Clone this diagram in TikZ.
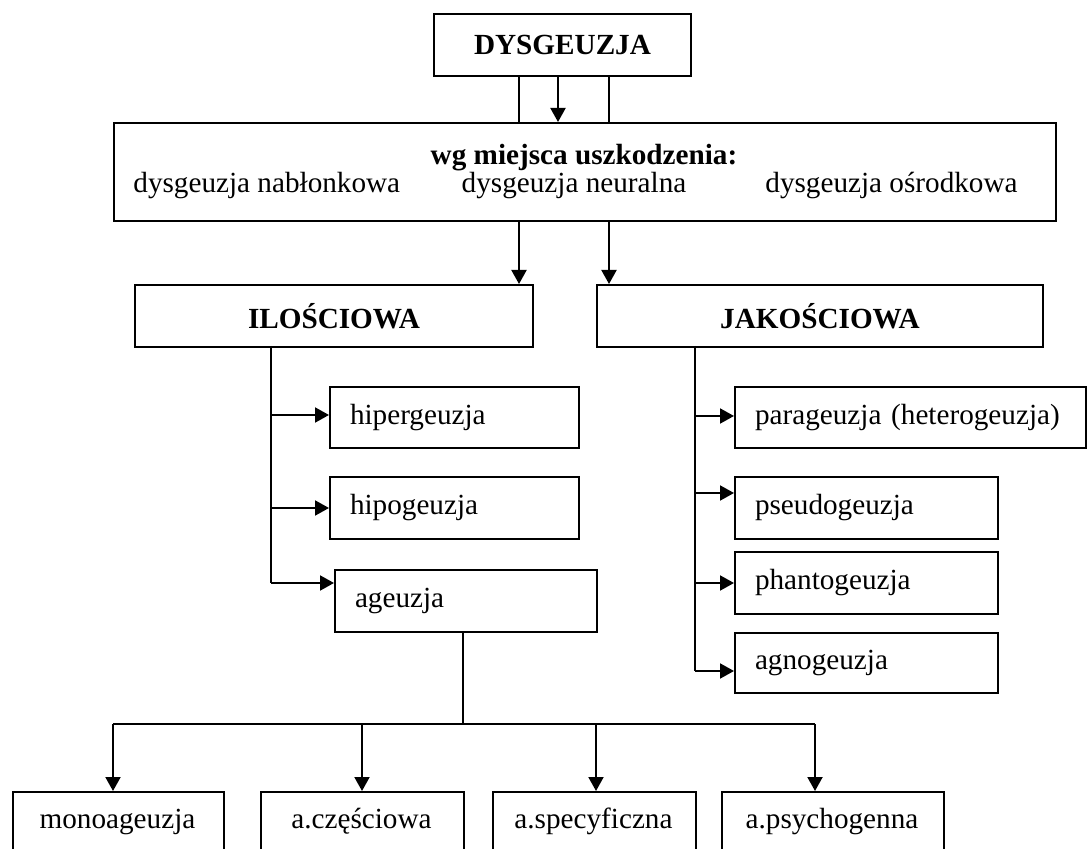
\documentclass[tikz,border=0pt]{standalone}
\usepackage{fontspec}
\setmainfont{Liberation Serif}
\usetikzlibrary{arrows.meta}
% one drawing unit = 0.5pt
\newcommand\upx{0.5pt}
\begin{document}
\begin{tikzpicture}[x=0.5pt,y=-0.5pt,
  every node/.style={font=\fontsize{14.6}{17.5}\selectfont},
  box/.style={draw, line width=1pt, anchor=north west, inner sep=0pt},
  lbox/.style={box, align=left, inner xsep=20*\upx},
  txt/.style={inner sep=0pt},
  ln/.style={line width=1pt},
  arr/.style={line width=1pt, -{Triangle[length=7pt,width=7.5pt]}}]
\clip (0,0) rectangle (1087,849);
\fill[white] (0,0) rectangle (1087,849);

% top level
\node[box, minimum width=257*\upx, minimum height=62*\upx] (top) at (433,13) {\bfseries DYSGEUZJA};
\node[box, minimum width=942*\upx, minimum height=98*\upx] (place) at (113,122) {};
\node[txt, anchor=base, font=\fontsize{14.6}{17.5}\selectfont\bfseries] (placehead) at (584,165) {wg miejsca uszkodzenia:};
\node[txt, anchor=base west] (epi) at (133,193) {dysgeuzja nabłonkowa};
\node[txt, anchor=base] (neu) at (574,193) {dysgeuzja neuralna};
\node[txt, anchor=base east] (cen) at (1018,193) {dysgeuzja ośrodkowa};

\draw[ln] (top.south -| 519,0) -- (place.north -| 519,0);
\draw[arr] (top.south -| 558,0) -- (place.north -| 558,0);
\draw[ln] (top.south -| 609,0) -- (place.north -| 609,0);

% two main groups
\node[box, minimum width=398*\upx, minimum height=62*\upx] (ilo) at (134,284) {\bfseries ILOŚCIOWA};
\node[box, minimum width=446*\upx, minimum height=62*\upx] (jak) at (596,284) {\bfseries JAKOŚCIOWA};
\draw[arr] (place.south -| 519,0) -- (ilo.north -| 519,0);
\draw[arr] (place.south -| 609,0) -- (jak.north -| 609,0);

% quantitative branch
\node[lbox, text width=209*\upx, minimum height=61*\upx] (hiper) at (329,386) {hipergeuzja};
\node[lbox, text width=209*\upx, minimum height=62*\upx] (hipo) at (329,476) {hipogeuzja};
\node[lbox, text width=222*\upx, minimum height=62*\upx] (age) at (334,569) {ageuzja};
\coordinate (lt0) at (271,346);
\coordinate (lt1) at (271,415);
\coordinate (lt2) at (271,508);
\coordinate (lt3) at (271,583);
\draw[ln] (lt0) -- (lt3);
\draw[arr] (lt1) -- (hiper.west |- lt1);
\draw[arr] (lt2) -- (hipo.west |- lt2);
\draw[arr] (lt3) -- (age.west |- lt3);

% qualitative branch
\node[lbox, text width=311*\upx, minimum height=61*\upx] (para) at (734,386) {parageuzja (heterogeuzja)};
\node[lbox, text width=223*\upx, minimum height=62*\upx] (pseudo) at (734,476) {pseudogeuzja};
\node[lbox, text width=223*\upx, minimum height=62*\upx] (phanto) at (734,551) {phantogeuzja};
\node[lbox, text width=223*\upx, minimum height=60*\upx] (agno) at (734,632) {agnogeuzja};
\coordinate (rt0) at (695,346);
\coordinate (rt1) at (695,416);
\coordinate (rt2) at (695,493);
\coordinate (rt3) at (695,583);
\coordinate (rt4) at (695,671);
\draw[ln] (rt0) -- (rt4);
\draw[arr] (rt1) -- (para.west |- rt1);
\draw[arr] (rt2) -- (pseudo.west |- rt2);
\draw[arr] (rt3) -- (phanto.west |- rt3);
\draw[arr] (rt4) -- (agno.west |- rt4);

% kinds of ageusia
\node[box, minimum width=211*\upx, minimum height=80*\upx] (mono) at (12,791) {};
\node[box, minimum width=203*\upx, minimum height=80*\upx] (part) at (260,791) {};
\node[box, minimum width=203*\upx, minimum height=80*\upx] (spec) at (492,791) {};
\node[box, minimum width=222*\upx, minimum height=80*\upx] (psy) at (721,791) {};
\node[txt, anchor=base] (monot) at (117.5,828) {monoageuzja};
\node[txt, anchor=base] (partt) at (361.5,828) {a.częściowa};
\node[txt, anchor=base] (spect) at (593.5,828) {a.specyficzna};
\node[txt, anchor=base] (psyt) at (832,828) {a.psychogenna};

\coordinate (bus) at (463,724);
\coordinate (busl) at (113,724);
\coordinate (busr) at (815,724);
\draw[ln] (age.south -| bus) -- (bus);
\draw[ln] (busl) -- (busr);
\draw[arr] (busl) -- (mono.north -| busl);
\draw[arr] (bus -| 362,0) -- (part.north -| 362,0);
\draw[arr] (bus -| 596,0) -- (spec.north -| 596,0);
\draw[arr] (busr) -- (psy.north -| busr);
\end{tikzpicture}
\end{document}
